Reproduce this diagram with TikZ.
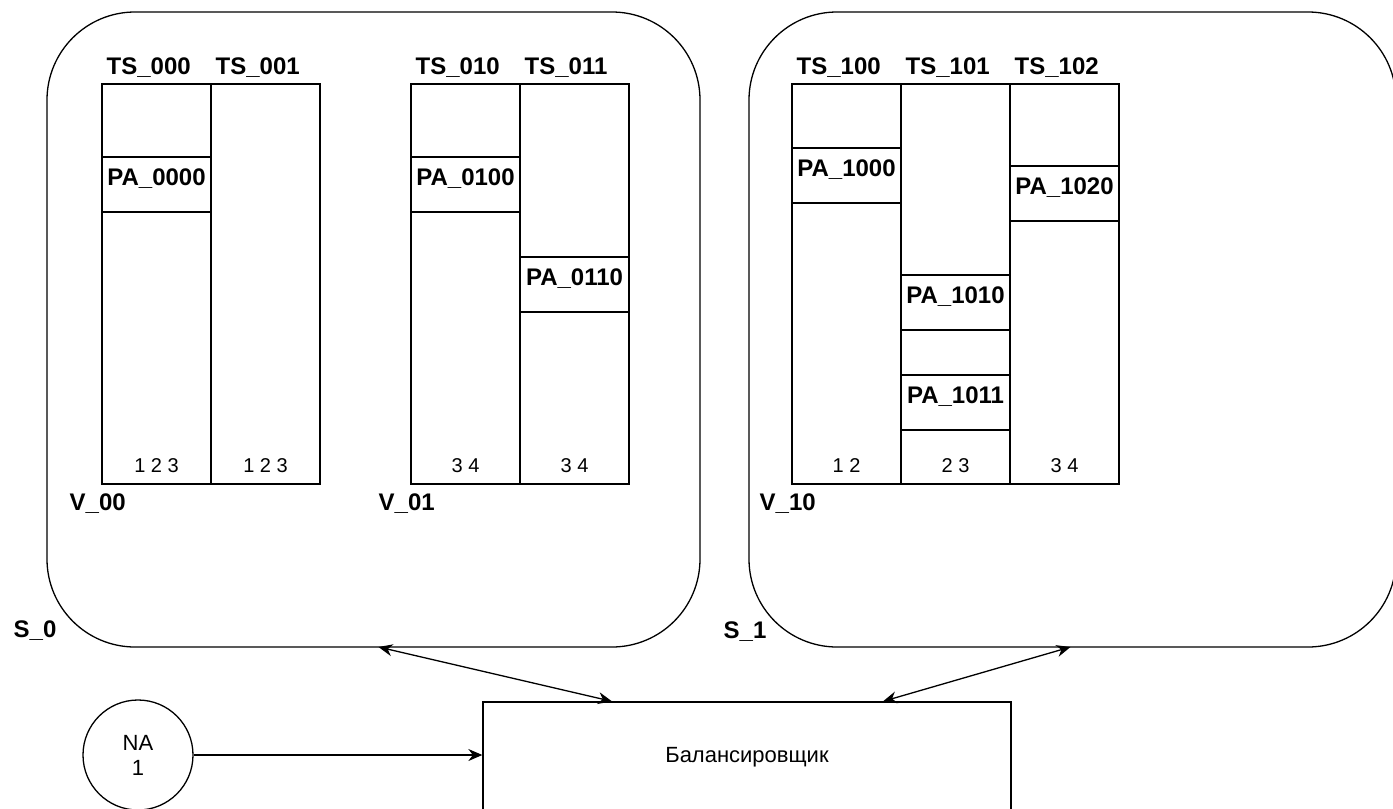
\documentclass[tikz,border=0pt]{standalone}
\usepackage{fontspec}
\setmainfont{Liberation Sans}
\usepackage{tikz}
\usetikzlibrary{arrows.meta,positioning,calc}

\begin{document}
\begin{tikzpicture}[
  x=0.5pt, y=-0.5pt,
  line width=0.65pt,
  srvbox/.style={draw, rounded corners=44pt, minimum width=#1, minimum height=317.5pt,
                 inner sep=0pt, outer sep=0pt},
  tscol/.style={draw, minimum width=54.5pt, minimum height=200pt, inner sep=0pt, outer sep=0pt},
  pabox/.style={draw, anchor=north, minimum width=54.5pt, inner xsep=0pt, inner ysep=0pt,
                outer sep=0pt, text height=14.3pt, text depth=13.2pt,
                font=\fontsize{12}{14}\selectfont\bfseries},
  tslbl/.style={anchor=base west, inner sep=0pt, font=\fontsize{12}{14}\selectfont\bfseries},
  numlbl/.style={anchor=base, inner sep=0pt, font=\fontsize{10}{12}\selectfont},
  balbox/.style={draw, minimum width=264pt, minimum height=55pt, inner sep=0pt,
                 font=\fontsize{11}{13}\selectfont},
  nanode/.style={draw, circle, minimum size=55pt, inner sep=0pt, align=center,
                 font=\fontsize{11}{12.5}\selectfont},
  arr/.style={draw, -{Stealth[length=7pt,width=6pt]}},
  arrboth/.style={draw, {Stealth[length=7pt,width=6pt]}-{Stealth[length=7pt,width=6pt]}}
]
\useasboundingbox (0,0) rectangle (1393,809);

% ---- servers ------------------------------------------------------------
\node[srvbox=326.5pt] (s0) at (373.5, 329.5) {};
\node[srvbox=323.5pt] (s1) at (1072.5, 329.5) {};
\node[tslbl] (ls0) at (13, 637.5)  {S\_0};
\node[tslbl] (ls1) at (723, 638.5) {S\_1};

% ---- volume V_00 --------------------------------------------------------
\node[tscol] (ts000) at (156.5, 284) {};
\node[tscol] (ts001) at (265.5, 284) {};
\node[pabox] (pa0000) at (156.5, 157) {PA\_0000};
\node[tslbl] (l000) at ([xshift=2pt,yshift=4.75pt]ts000.north west) {TS\_000};
\node[tslbl] (l001) at ([xshift=2pt,yshift=4.75pt]ts001.north west) {TS\_001};
\node[numlbl] (n000) at ([yshift=6pt]ts000.south) {1 2 3};
\node[numlbl] (n001) at ([yshift=6pt]ts001.south) {1 2 3};
\node[tslbl] (v00) at ([xshift=-16.5pt,yshift=-13.25pt]ts000.south west) {V\_00};

% ---- volume V_01 --------------------------------------------------------
\node[tscol] (ts010) at (465.5, 284) {};
\node[tscol] (ts011) at (574.5, 284) {};
\node[pabox] (pa0100) at (465.5, 157) {PA\_0100};
\node[pabox] (pa0110) at (574.5, 257) {PA\_0110};
\node[tslbl] (l010) at ([xshift=2pt,yshift=4.75pt]ts010.north west) {TS\_010};
\node[tslbl] (l011) at ([xshift=2pt,yshift=4.75pt]ts011.north west) {TS\_011};
\node[numlbl] (n010) at ([yshift=6pt]ts010.south) {3 4};
\node[numlbl] (n011) at ([yshift=6pt]ts011.south) {3 4};
\node[tslbl] (v01) at ([xshift=-16.5pt,yshift=-13.25pt]ts010.south west) {V\_01};

% ---- volume V_10 --------------------------------------------------------
\node[tscol] (ts100) at (846.5, 284) {};
\node[tscol] (ts101) at (955.5, 284) {};
\node[tscol] (ts102) at (1064.5, 284) {};
\node[pabox] (pa1000) at (846.5, 148) {PA\_1000};
\node[pabox] (pa1010) at (955.5, 275) {PA\_1010};
\node[pabox] (pa1011) at (955.5, 375) {PA\_1011};
\node[pabox] (pa1020) at (1064.5, 166) {PA\_1020};
\node[tslbl] (l100) at ([xshift=2pt,yshift=4.75pt]ts100.north west) {TS\_100};
\node[tslbl] (l101) at ([xshift=2pt,yshift=4.75pt]ts101.north west) {TS\_101};
\node[tslbl] (l102) at ([xshift=2pt,yshift=4.75pt]ts102.north west) {TS\_102};
\node[numlbl] (n100) at ([yshift=6pt]ts100.south) {1 2};
\node[numlbl] (n101) at ([yshift=6pt]ts101.south) {2 3};
\node[numlbl] (n102) at ([yshift=6pt]ts102.south) {3 4};
\node[tslbl] (v10) at ([xshift=-16.5pt,yshift=-13.25pt]ts100.south west) {V\_10};

% ---- balancer and client ------------------------------------------------
\node[balbox] (bal) at (747, 757) {Балансировщик};
\node[nanode] (na) at (138, 755) {NA\\1};

\draw[arrboth] ([xshift=2.5pt]s0.south) -- ([xshift=-67.5pt]bal.north);
\draw[arrboth] ([xshift=-1pt]s1.south) -- ([xshift=68pt]bal.north);
\draw[arr] (na.east) -- (na.east -| bal.west);

\end{tikzpicture}
\end{document}
